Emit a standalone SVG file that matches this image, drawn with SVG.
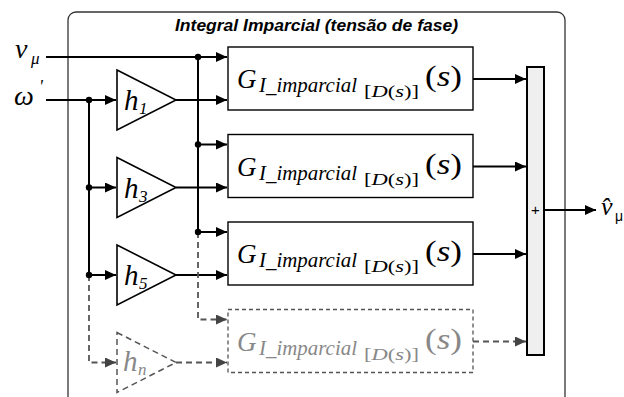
<svg xmlns="http://www.w3.org/2000/svg" width="624" height="397" viewBox="0 0 624 397">
<style>
.m{font-family:"Liberation Serif","DejaVu Serif",serif;font-style:italic;fill:#000}
.gr{fill:#888}
.box{fill:#fff;stroke:#000;stroke-width:1.4}
.dbox{fill:#fff;stroke:#555;stroke-width:1.3;stroke-dasharray:4,3}
.tri{fill:#fff;stroke:#000;stroke-width:1.6}
.dtri{fill:#fff;stroke:#555;stroke-width:1.5;stroke-dasharray:6,4}
.w{fill:none;stroke:#000;stroke-width:2}
.dw{fill:none;stroke:#555;stroke-width:1.8;stroke-dasharray:6,4}
.dot{fill:#000}
</style>
<defs>
<marker id="a" markerUnits="userSpaceOnUse" markerWidth="12" markerHeight="10" refX="11" refY="5" orient="auto"><path d="M0,0 L11,5 L0,10 z" fill="#000"/></marker>
<marker id="ag" markerUnits="userSpaceOnUse" markerWidth="12" markerHeight="10" refX="11" refY="5" orient="auto"><path d="M0,0 L11,5 L0,10 z" fill="#444"/></marker>
</defs>

<g id="frame">
<rect x="68" y="12" width="497" height="400" rx="8" fill="none" stroke="#333" stroke-width="1.3"/>
<text x="175" y="31" font-family="Liberation Sans,Arial,sans-serif" font-weight="bold" font-style="italic" font-size="16" textLength="283" lengthAdjust="spacingAndGlyphs">Integral Imparcial (tensão de fase)</text>
</g>

<g id="in_v">
<text class="m" x="15" y="58" font-size="28">v</text>
<text class="m" x="31" y="64" font-size="17">μ</text>
</g>
<g id="in_w">
<text class="m" x="14" y="105" font-size="28">ω</text>
<text class="m" x="39" y="93" font-size="18">'</text>
</g>

<g id="h1">
<polygon class="tri" points="117,70 176,100 117,130"/>
<text class="m" x="124" y="110" font-size="29">h</text>
<text class="m" x="139" y="114" font-size="17">1</text>
</g>
<g id="h3">
<polygon class="tri" points="117,157.5 176,187.5 117,217.5"/>
<text class="m" x="124" y="197.5" font-size="29">h</text>
<text class="m" x="139" y="201.5" font-size="17">3</text>
</g>
<g id="h5">
<polygon class="tri" points="117,245 176,275 117,305"/>
<text class="m" x="124" y="285" font-size="29">h</text>
<text class="m" x="139" y="289" font-size="17">5</text>
</g>
<g id="hn">
<polygon class="dtri" points="117,332.5 176,362.5 117,392.5"/>
<text class="m gr" x="123" y="371" font-size="29">h</text>
<text class="m gr" x="138" y="375" font-size="17">n</text>
</g>

<g id="G1">
<rect class="box" x="228" y="47" width="245" height="63"/>
<text class="m" x="237" y="88" font-size="27">G</text>
<text class="m" x="259" y="92" font-size="20" textLength="98" lengthAdjust="spacingAndGlyphs">I_imparcial</text>
<text class="m" x="364" y="97" font-size="16" textLength="55" lengthAdjust="spacingAndGlyphs" style="font-style:normal">[<tspan style="font-style:italic">D</tspan>(<tspan style="font-style:italic">s</tspan>)]</text>
<text class="m" x="425" y="86" font-size="30" textLength="37" lengthAdjust="spacingAndGlyphs" style="font-style:normal">(<tspan style="font-style:italic">s</tspan>)</text>
</g>
<g id="G3">
<rect class="box" x="228" y="134.5" width="245" height="63"/>
<text class="m" x="237" y="175.5" font-size="27">G</text>
<text class="m" x="259" y="179.5" font-size="20" textLength="98" lengthAdjust="spacingAndGlyphs">I_imparcial</text>
<text class="m" x="364" y="184.5" font-size="16" textLength="55" lengthAdjust="spacingAndGlyphs" style="font-style:normal">[<tspan style="font-style:italic">D</tspan>(<tspan style="font-style:italic">s</tspan>)]</text>
<text class="m" x="425" y="173.5" font-size="30" textLength="37" lengthAdjust="spacingAndGlyphs" style="font-style:normal">(<tspan style="font-style:italic">s</tspan>)</text>
</g>
<g id="G5">
<rect class="box" x="228" y="222" width="245" height="63"/>
<text class="m" x="237" y="263" font-size="27">G</text>
<text class="m" x="259" y="267" font-size="20" textLength="98" lengthAdjust="spacingAndGlyphs">I_imparcial</text>
<text class="m" x="364" y="272" font-size="16" textLength="55" lengthAdjust="spacingAndGlyphs" style="font-style:normal">[<tspan style="font-style:italic">D</tspan>(<tspan style="font-style:italic">s</tspan>)]</text>
<text class="m" x="425" y="261" font-size="30" textLength="37" lengthAdjust="spacingAndGlyphs" style="font-style:normal">(<tspan style="font-style:italic">s</tspan>)</text>
</g>
<g id="Gn">
<rect class="dbox" x="228" y="309.5" width="245" height="63"/>
<text class="m gr" x="237" y="350.5" font-size="27">G</text>
<text class="m gr" x="259" y="354.5" font-size="20" textLength="98" lengthAdjust="spacingAndGlyphs">I_imparcial</text>
<text class="m gr" x="364" y="359.5" font-size="16" textLength="55" lengthAdjust="spacingAndGlyphs" style="font-style:normal">[<tspan style="font-style:italic">D</tspan>(<tspan style="font-style:italic">s</tspan>)]</text>
<text class="m gr" x="425" y="348.5" font-size="30" textLength="37" lengthAdjust="spacingAndGlyphs" style="font-style:normal">(<tspan style="font-style:italic">s</tspan>)</text>
</g>

<g id="sum">
<rect x="527" y="67" width="17" height="288" fill="#efefef" stroke="#000" stroke-width="2"/>
<text x="535.5" y="215" font-family="Liberation Sans,Arial,sans-serif" font-size="15" text-anchor="middle">+</text>
</g>

<g id="out">
<text class="m" x="601" y="215" font-size="26">v̂</text>
<text x="615" y="221" font-family="Liberation Sans,Arial,sans-serif" font-size="14">μ</text>
</g>

<g id="connectors">
<path class="w" d="M46,57 H227" marker-end="url(#a)"/>
<path class="w" d="M46,100 H116" marker-end="url(#a)"/>
<path class="w" d="M89,100 V275"/>
<path class="dw" d="M89,275 V362.5 H116" marker-end="url(#ag)"/>
<path class="w" d="M89,187.5 H116" marker-end="url(#a)"/>
<path class="w" d="M89,275 H116" marker-end="url(#a)"/>
<path class="w" d="M176,100 H227" marker-end="url(#a)"/>
<path class="w" d="M176,187.5 H227" marker-end="url(#a)"/>
<path class="w" d="M176,275 H227" marker-end="url(#a)"/>
<path class="dw" d="M176,362.5 H227" marker-end="url(#ag)"/>
<path class="w" d="M198,57 V232"/>
<path class="dw" d="M198,232 V319.5 H227" marker-end="url(#ag)"/>
<path class="w" d="M198,144.5 H227" marker-end="url(#a)"/>
<path class="w" d="M198,232 H227" marker-end="url(#a)"/>
<path class="w" d="M473,79 H526" marker-end="url(#a)"/>
<path class="w" d="M473,166.5 H526" marker-end="url(#a)"/>
<path class="w" d="M473,254 H526" marker-end="url(#a)"/>
<path class="dw" d="M473,341.5 H526" marker-end="url(#ag)"/>
<path class="w" d="M544,210 H596" marker-end="url(#a)"/>
<circle class="dot" cx="89" cy="100" r="3.2"/>
<circle class="dot" cx="89" cy="187.5" r="3.2"/>
<circle class="dot" cx="89" cy="275" r="3.2"/>
<circle class="dot" cx="198" cy="57" r="3.2"/>
<circle class="dot" cx="198" cy="144.5" r="3.2"/>
<circle class="dot" cx="198" cy="232" r="3.2"/>
</g>
</svg>
